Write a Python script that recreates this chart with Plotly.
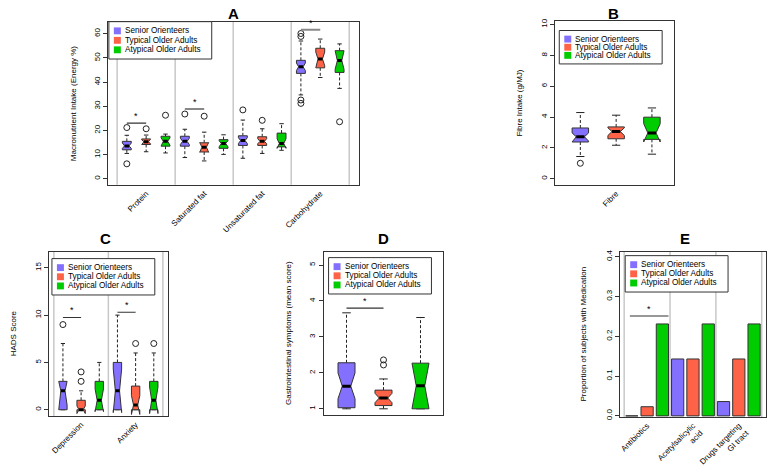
import plotly.graph_objects as go

W, H = 774, 474
FONT = "Liberation Sans, Arial, Helvetica, sans-serif"

groups = ["Senior Orienteers", "Typical Older Adults", "Atypical Older Adults"]
group_colors = ["#8470FF", "#FF6347", "#00CD00"]

# ---------- Panel A: macronutrient intake (Energy %) ----------
a_categories = ["Protein", "Saturated fat", "Unsaturated fat", "Carbohydrate"]
# each box: [lower whisker, Q1, notch low, median, notch high, Q3, upper whisker]
a_senior = [[10.5, 12.0, 12.6, 13.6, 14.8, 15.5, 18.0],
            [8.8, 13.5, 14.2, 15.5, 16.8, 17.6, 20.5],
            [8.5, 13.8, 14.6, 15.8, 17.0, 17.8, 24.3],
            [34.7, 43.6, 44.8, 46.3, 47.9, 49.0, 57.0]]
a_typical = [[11.2, 14.2, 14.5, 15.3, 16.1, 16.5, 18.1],
             [7.4, 11.1, 11.0, 13.1, 15.0, 14.9, 19.3],
             [10.5, 13.8, 14.5, 15.5, 16.6, 17.4, 20.7],
             [41.9, 45.9, 46.8, 49.6, 52.4, 54.0, 57.8]]
a_atypical = [[10.7, 13.5, 13.9, 15.5, 17.0, 17.6, 18.5],
              [10.1, 12.6, 13.2, 14.6, 15.8, 16.2, 18.2],
              [11.8, 13.2, 12.6, 14.6, 16.6, 18.9, 22.8],
              [37.4, 44.0, 45.3, 48.9, 53.0, 53.0, 55.8]]
a_senior_out = [[21.2, 6.2], [26.8], [28.5], [60.1, 58.9, 32.6, 31.2]]
a_typical_out = [[20.7], [25.9], [24.2], []]
a_atypical_out = [[26.3], [], [], [23.6]]
a_sig_from = [1, 4, 10]
a_sig_to = [2, 5, 11]
a_sig_y = [23.0, 28.9, 61.7]
a_yticks = [0, 10, 20, 30, 40, 50, 60]

# ---------- Panel B: fibre intake ----------
b_categories = ["Fibre"]
b_senior = [[1.44, 2.38, 2.44, 2.72, 2.97, 3.29, 4.29]]
b_typical = [[2.17, 2.59, 2.80, 3.06, 3.30, 3.36, 4.12]]
b_atypical = [[1.59, 2.55, 2.38, 2.97, 3.57, 3.99, 4.59]]
b_senior_out = [[1.0]]
b_typical_out = [[]]
b_atypical_out = [[]]
b_yticks = [0, 2, 4, 6, 8, 10]

# ---------- Panel C: HADS score ----------
c_categories = ["Depression", "Anxiety"]
c_senior = [[0, 0, 0.5, 2, 3.0, 3, 7], [0, 0, -0.3, 2, 4.3, 5, 10]]
c_typical = [[0, 0, -0.4, 0, 0.4, 1, 2], [0, 0, -0.5, 0.5, 1.5, 2.5, 6]]
c_atypical = [[0, 0, -0.2, 1, 2.2, 3, 5], [0, 0, -0.4, 1, 2.4, 3, 6]]
c_senior_out = [[9], []]
c_typical_out = [[3, 4], [7]]
c_atypical_out = [[], [7]]
c_sig_from = [1, 4]
c_sig_to = [2, 5]
c_sig_y = [9.75, 10.3]
c_yticks = [0, 5, 10, 15]

# ---------- Panel D: gastrointestinal symptoms ----------
d_categories = [""]
d_senior = [[1.0, 1.03, 1.28, 1.63, 2.0, 2.28, 3.67]]
d_typical = [[1.0, 1.09, 1.17, 1.30, 1.43, 1.52, 1.83]]
d_atypical = [[1.0, 1.0, 1.0, 1.64, 2.27, 2.27, 3.54]]
d_senior_out = [[]]
d_typical_out = [[2.22, 2.36]]
d_atypical_out = [[]]
d_sig_from = [1]
d_sig_to = [2]
d_sig_y = [3.8]
d_yticks = [1, 2, 3, 4, 5]

# ---------- Panel E: medication ----------
e_categories = ["Antibiotics", "Acetylsalicylic<br>acid", "Drugs targeting<br>GI tract"]
e_senior = [0.0, 0.143, 0.036]
e_typical = [0.023, 0.143, 0.143]
e_atypical = [0.231, 0.231, 0.231]
e_sig_from = [0.87]
e_sig_to = [3.4]
e_sig_y = [0.251]
e_yticks = [0.0, 0.1, 0.2, 0.3, 0.4]
e_yticktext = ["0.0", "0.1", "0.2", "0.3", "0.4"]

fig = go.Figure()


def add_box(xa, ya, pos, st, outs, color, hw=0.23, nf=0.5):
    lw, q1, clo, med, chi, q3, uw = st
    common = dict(xaxis=xa, yaxis=ya, hoverinfo="skip", showlegend=False)
    fig.add_trace(go.Scatter(x=[pos, pos, None, pos, pos], y=[q3, uw, None, q1, lw],
                             mode="lines", line=dict(color="#222", width=1, dash="3px,2px"), **common))
    fig.add_trace(go.Scatter(x=[pos - hw * 0.5, pos + hw * 0.5, None, pos - hw * 0.5, pos + hw * 0.5],
                             y=[uw, uw, None, lw, lw], mode="lines",
                             line=dict(color="#222", width=1), **common))
    fr = [-1, 1, 1, nf, 1, 1, -1, -1, -nf, -1, -1]
    xs = [pos + hw * f for f in fr]
    ys = [q1, q1, clo, med, chi, q3, q3, chi, med, clo, q1]
    fig.add_trace(go.Scatter(x=xs, y=ys, mode="lines", fill="toself", fillcolor=color,
                             line=dict(color="#333", width=1), **common))
    fig.add_trace(go.Scatter(x=[pos - hw * nf, pos + hw * nf], y=[med, med], mode="lines",
                             line=dict(color="black", width=3), **common))
    if outs:
        fig.add_trace(go.Scatter(x=[pos] * len(outs), y=outs, mode="markers",
                                 marker=dict(symbol="circle-open", size=6, color="#222",
                                             line=dict(width=1)), **common))


def add_boxes(xa, ya, cats, stats, outs):
    for ci in range(len(cats)):
        for gi in range(3):
            add_box(xa, ya, ci * 3 + gi + 1, stats[gi][ci], outs[gi][ci], group_colors[gi])


def add_sig(xa, ya, x0s, x1s, ys, color="#333", width=1.2):
    for x0, x1, y in zip(x0s, x1s, ys):
        fig.add_trace(go.Scatter(x=[x0, x1], y=[y, y], mode="lines", line=dict(color=color, width=width),
                                 xaxis=xa, yaxis=ya, hoverinfo="skip", showlegend=False))
        fig.add_annotation(x=(x0 + x1) / 2, y=y, xref=xa, yref=ya, text="*", showarrow=False,
                           yanchor="bottom", yshift=0, font=dict(size=9, family=FONT, color="black"))


add_boxes("x", "y", a_categories, [a_senior, a_typical, a_atypical],
          [a_senior_out, a_typical_out, a_atypical_out])
add_sig("x", "y", a_sig_from[:1], a_sig_to[:1], a_sig_y[:1])
add_sig("x", "y", a_sig_from[1:], a_sig_to[1:], a_sig_y[1:], color="#888", width=2)

add_boxes("x2", "y2", b_categories, [b_senior, b_typical, b_atypical],
          [b_senior_out, b_typical_out, b_atypical_out])

add_boxes("x3", "y3", c_categories, [c_senior, c_typical, c_atypical],
          [c_senior_out, c_typical_out, c_atypical_out])
add_sig("x3", "y3", c_sig_from, c_sig_to, c_sig_y)

add_boxes("x4", "y4", d_categories, [d_senior, d_typical, d_atypical],
          [d_senior_out, d_typical_out, d_atypical_out])
add_sig("x4", "y4", d_sig_from, d_sig_to, d_sig_y)

for gi, vals in enumerate([e_senior, e_typical, e_atypical]):
    fig.add_trace(go.Bar(x=[ci * 3 + gi + 1 for ci in range(len(e_categories))], y=vals, width=0.8,
                         marker=dict(color=group_colors[gi], line=dict(color="#333", width=1)),
                         xaxis="x5", yaxis="y5", showlegend=False, hoverinfo="skip"))
add_sig("x5", "y5", e_sig_from, e_sig_to, e_sig_y)

# panel geometry in pixels: (left, right, top, bottom)
panels = [
    dict(n="", frame=(107, 358, 20, 186), xr=[0.02, 12.98], yr=[-2.5, 65],
         yt=a_yticks, ytt=[str(v) for v in a_yticks], cats=a_categories, sep=[0.5, 3.5, 6.5, 9.5, 12.5]),
    dict(n="2", frame=(555, 674, 19, 186), xr=[0.3, 3.62], yr=[-0.4, 10.25],
         yt=b_yticks, ytt=[str(v) for v in b_yticks], cats=b_categories, sep=[]),
    dict(n="3", frame=(48, 167, 254, 421), xr=[0.23, 6.77], yr=[-0.65, 16.7],
         yt=c_yticks, ytt=[str(v) for v in c_yticks], cats=c_categories, sep=[0.5, 3.5, 6.5]),
    dict(n="4", frame=(323, 443, 254, 420), xr=[0.38, 3.62], yr=[0.83, 5.37],
         yt=d_yticks, ytt=[str(v) for v in d_yticks], cats=[], sep=[]),
    dict(n="5", frame=(620, 766, 254, 422), xr=[0.24, 9.78], yr=[-0.0025, 0.4125],
         yt=e_yticks, ytt=e_yticktext, cats=e_categories, sep=[0.5, 3.5, 6.5, 9.5]),
]

layout = dict(width=W, height=H, margin=dict(l=0, r=0, t=0, b=0), autosize=False,
              paper_bgcolor="white", plot_bgcolor="white", showlegend=False,
              font=dict(family=FONT, size=8, color="black"), barmode="overlay")
tickfont = dict(family=FONT, size=8, color="black")
for p in panels:
    l, r, t, b = p["frame"]
    n = p["n"]
    layout["xaxis" + n] = dict(domain=[l / W, r / W], range=p["xr"], anchor="y" + n,
                               tickvals=[ci * 3 + 2 for ci in range(len(p["cats"]))],
                               ticktext=p["cats"], tickangle=-45, ticks="", tickfont=tickfont,
                               showline=True, mirror=True, linecolor="#333", linewidth=1,
                               showgrid=False, zeroline=False, fixedrange=True)
    layout["yaxis" + n] = dict(domain=[1 - b / H, 1 - t / H], range=p["yr"], anchor="x" + n,
                               tickvals=p["yt"], ticktext=p["ytt"], tickangle=-90,
                               ticks="outside", ticklen=4, tickcolor="#333", tickfont=tickfont,
                               showline=True, mirror=True, linecolor="#333", linewidth=1,
                               showgrid=False, zeroline=False, fixedrange=True)
fig.update_layout(**layout)

# group separator lines
for p in panels:
    n = p["n"]
    for s in p["sep"]:
        fig.add_shape(type="line", xref="x" + n, yref="y" + n + " domain", x0=s, x1=s, y0=0, y1=1,
                      line=dict(color="#C8C8C8", width=1.5), layer="below")

# panel titles
titles = [("A", 233, 12), ("B", 613, 12), ("C", 105, 241), ("D", 383, 241), ("E", 685, 241)]
for txt, x, y in titles:
    fig.add_annotation(x=x / W, y=1 - y / H, xref="paper", yref="paper", text="<b>" + txt + "</b>",
                       showarrow=False, xanchor="center", yanchor="middle",
                       font=dict(size=15, family=FONT, color="black"))

# y-axis titles
ytitles = [("Macronutrient Intake (Energy %)", 72, 103), ("Fibre Intake (g/MJ)", 519, 103),
           ("HADS Score", 12, 337), ("Gastrointestinal symptoms (mean score)", 288, 337),
           ("Proportion of subjects with Medication", 583, 338)]
for txt, x, y in ytitles:
    fig.add_annotation(x=x / W, y=1 - y / H, xref="paper", yref="paper", text=txt, textangle=-90,
                       showarrow=False, xanchor="center", yanchor="middle",
                       font=dict(size=8, family=FONT, color="black"))

# legends
legend_pos = [(108, 20, 38), (559, 29, 34), (51, 261, 37), (328, 260, 37), (625, 258, 37)]
for L, T, h in legend_pos:
    fig.add_shape(type="rect", xref="paper", yref="paper", x0=L / W, x1=(L + 103) / W,
                  y0=1 - (T + h) / H, y1=1 - T / H, fillcolor="white",
                  line=dict(color="#333", width=1), layer="above")
    step = (h - 10) / 2.9
    for i, (g, c) in enumerate(zip(groups, group_colors)):
        cy = T + h / 2 + (i - 1) * step
        fig.add_shape(type="rect", xref="paper", yref="paper", x0=(L + 5) / W, x1=(L + 12) / W,
                      y0=1 - (cy + 3.5) / H, y1=1 - (cy - 3.5) / H, fillcolor=c,
                      line=dict(width=0), layer="above")
        fig.add_annotation(x=(L + 15) / W, y=1 - cy / H, xref="paper", yref="paper", text=g,
                           showarrow=False, xanchor="left", yanchor="middle", borderpad=0,
                           font=dict(size=8.2, family=FONT, color="black"))

fig.write_html("out.html", config={"displayModeBar": False, "staticPlot": True},
               post_script="document.body.style.margin='0';document.body.style.overflow='hidden';")
